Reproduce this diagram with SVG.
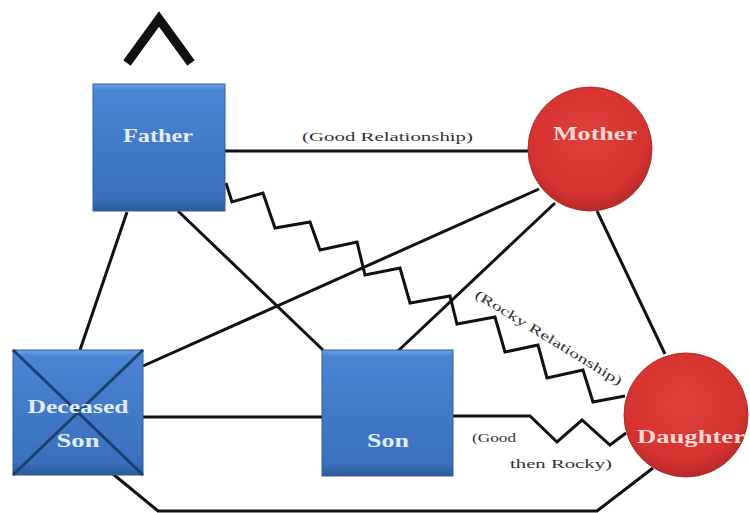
<svg xmlns="http://www.w3.org/2000/svg" width="750" height="513" viewBox="0 0 750 513">
<defs>
<linearGradient id="boxg" x1="0" y1="0" x2="0" y2="1">
<stop offset="0" stop-color="#6fa2e0"/>
<stop offset="0.05" stop-color="#4a84d2"/>
<stop offset="0.9" stop-color="#3a70bd"/>
<stop offset="1" stop-color="#2d5a99"/>
</linearGradient>
<radialGradient id="circg" cx="0.48" cy="0.4" r="0.6">
<stop offset="0" stop-color="#e0403c"/>
<stop offset="0.8" stop-color="#d43330"/>
<stop offset="1" stop-color="#b42a27"/>
</radialGradient>
</defs>
<style>
.box{fill:url(#boxg);stroke:#2f5d9c;stroke-width:1}
.circ{fill:url(#circg);stroke:#b52a28;stroke-width:1}
.bl{fill:#e2ecfa;font-family:"Liberation Serif",serif;font-weight:bold;font-size:19px;text-anchor:middle}
.rl{fill:#f7d6d4;font-family:"Liberation Serif",serif;font-weight:bold;font-size:19px;text-anchor:middle}
.lbl{fill:#333;font-family:"Liberation Serif",serif;font-size:13px}
.ln{fill:none;stroke:#111;stroke-width:3;stroke-linejoin:miter}
</style>
<rect width="750" height="513" fill="#ffffff"/>
<polyline points="127,63 159,19 191,63" fill="none" stroke="#111" stroke-width="9"/>
<g id="connectors">
<line class="ln" x1="225" y1="151" x2="529" y2="151"/>
<line class="ln" x1="127" y1="212" x2="80" y2="350"/>
<line class="ln" x1="178" y1="211" x2="323" y2="350"/>
<line class="ln" x1="143" y1="366" x2="539" y2="189"/>
<line class="ln" x1="398" y1="351" x2="555" y2="203"/>
<line class="ln" x1="597" y1="211" x2="665" y2="354"/>
<line class="ln" x1="143" y1="417" x2="322" y2="417"/>
<polyline class="ln" points="113,474 158,511 597,511 653,468"/>
<polyline class="ln" points="226,183 232,202 263,193 275,228 310,222 320,250 357,242 365,275 400,268 410,303 450,296 457,324 495,317 505,352 538,345 547,378 583,370 593,402 625,396"/>
<polyline class="ln" points="453,416 530,416 557,442 582,420 610,445 626,433"/>
<text class="lbl" x="302" y="141" textLength="171" lengthAdjust="spacingAndGlyphs">(Good Relationship)</text>
<text class="lbl" transform="translate(474,297) rotate(31.5)" x="0" y="0" textLength="170" lengthAdjust="spacingAndGlyphs">(Rocky Relationship)</text>
<text class="lbl" x="472" y="442" textLength="44" lengthAdjust="spacingAndGlyphs">(Good</text>
<text class="lbl" x="510" y="468" textLength="102" lengthAdjust="spacingAndGlyphs">then Rocky)</text>
</g>
<g id="father">
<rect class="box" x="93" y="84" width="132" height="127"/>
<text class="bl" x="158" y="142" textLength="70" lengthAdjust="spacingAndGlyphs">Father</text>
</g>
<g id="mother">
<circle class="circ" cx="590" cy="149" r="62"/>
<text class="rl" x="595" y="140" textLength="84" lengthAdjust="spacingAndGlyphs">Mother</text>
</g>
<g id="deceased-son">
<rect class="box" x="13" y="350" width="130" height="125"/>
<line x1="13" y1="350" x2="143" y2="475" stroke="#1d3f70" stroke-width="3"/>
<line x1="143" y1="350" x2="13" y2="475" stroke="#1d3f70" stroke-width="3"/>
<text class="bl" x="78" y="413" textLength="101" lengthAdjust="spacingAndGlyphs">Deceased</text>
<text class="bl" x="78" y="447" textLength="43" lengthAdjust="spacingAndGlyphs">Son</text>
</g>
<g id="son">
<rect class="box" x="322" y="350" width="131" height="126"/>
<text class="bl" x="388" y="447" textLength="42" lengthAdjust="spacingAndGlyphs">Son</text>
</g>
<g id="daughter">
<circle class="circ" cx="686" cy="415" r="62"/>
<text class="rl" x="691" y="443" textLength="108" lengthAdjust="spacingAndGlyphs">Daughter</text>
</g>
</svg>
